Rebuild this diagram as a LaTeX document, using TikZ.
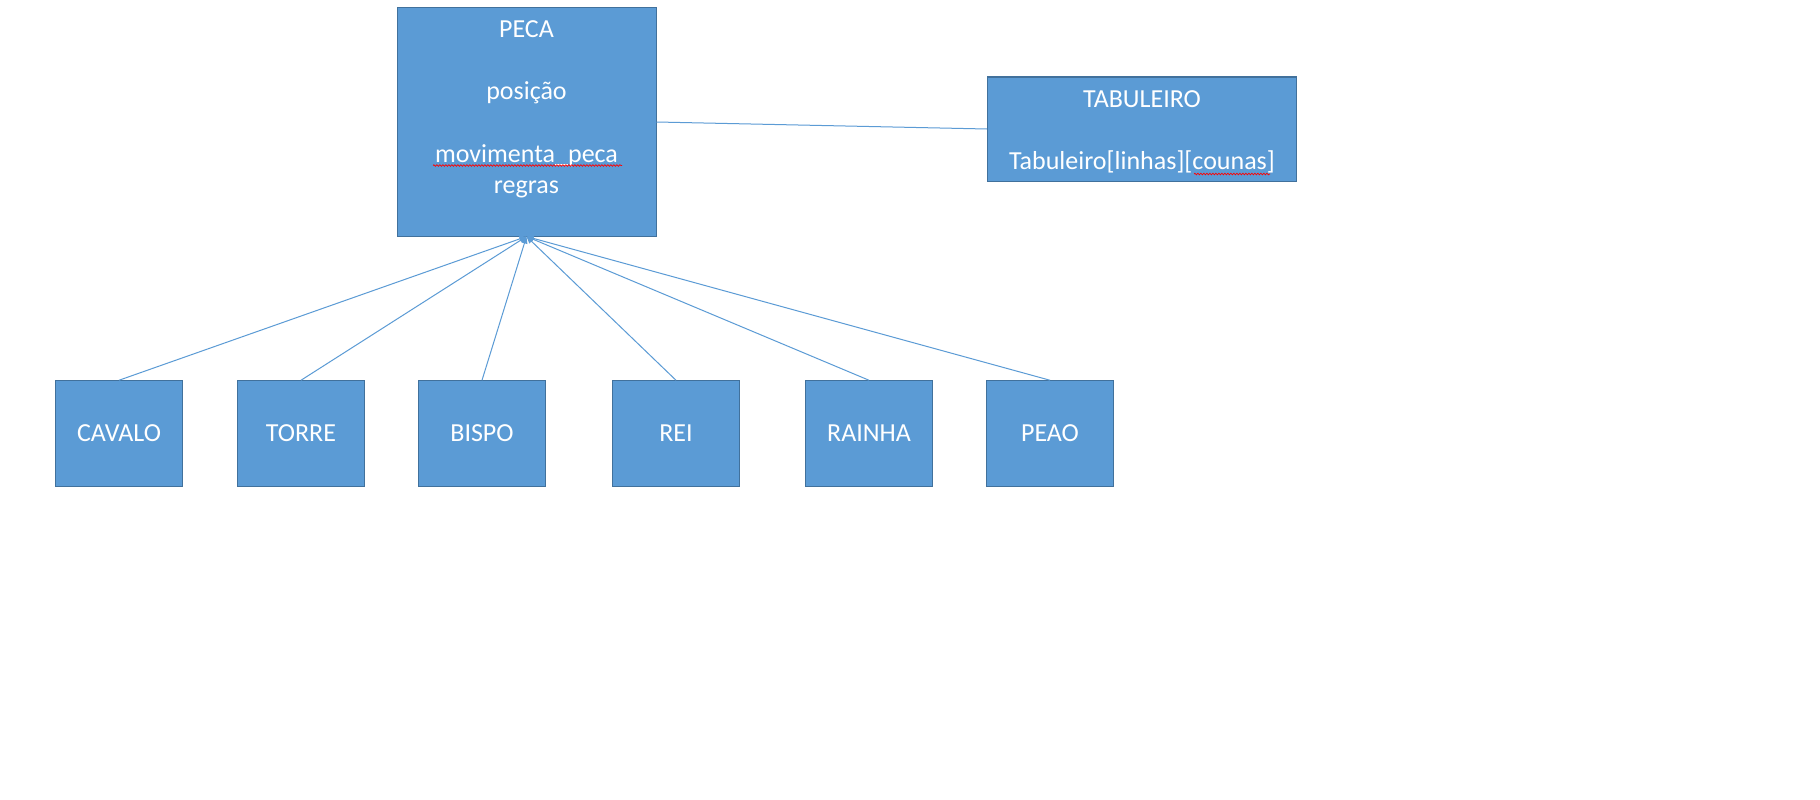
\documentclass[tikz,border=0pt]{standalone}
\usepackage{fontspec}
\setmainfont{Carlito}
\usetikzlibrary{arrows.meta,decorations.pathmorphing}
\definecolor{boxfill}{HTML}{5B9BD5}
\definecolor{boxline}{HTML}{41719C}
\begin{document}
\begin{tikzpicture}[x=1pt,y=-1pt,
 box/.style={draw=boxline,fill=boxfill,line width=1pt,inner sep=0pt,text=white,font=\fontsize{26}{31.3}\selectfont},
 piece/.style={box,minimum width=126.5pt,minimum height=105.5pt},
 txt/.style={text=white,inner sep=0pt,align=center,font=\fontsize{26}{31.3}\selectfont},
 conn/.style={draw=boxfill,line width=1pt},
 inh/.style={conn,-{Triangle[width=6pt,length=7pt]}},
 spell/.style={draw=red,line width=0.7pt,decorate,decoration={snake,segment length=3pt,amplitude=0.8pt}}]
\useasboundingbox[fill=white] (0,0) rectangle (1820,800);
\node[box,minimum width=259pt,minimum height=228pt] (peca) at (526.5,122) {};
\node[txt,anchor=north] (pecatxt) at (526.5,20) {PECA\\[31.3pt]posição\\[31.3pt]movimenta\_peca\\regras};
\node[box,minimum width=309pt,minimum height=104pt] (tab) at (1142,129) {};
\node[txt,anchor=north] (tabtxt) at (1142,90) {TABULEIRO\\[31.3pt]Tabuleiro[linhas][counas]};
\node[piece] (cavalo) at (119,433.5) {CAVALO};
\node[piece] (torre) at (301,433.5) {TORRE};
\node[piece] (bispo) at (482,433.5) {BISPO};
\node[piece] (rei) at (676,433.5) {REI};
\node[piece] (rainha) at (869,433.5) {RAINHA};
\node[piece] (peao) at (1050,433.5) {PEAO};
\draw[conn] (peca.east) -- (tab.west);
\foreach \n in {cavalo,torre,bispo,rei,rainha,peao}
  \draw[inh] (\n.north) -- (peca.south);
\draw[spell] (433,165.5) -- (622,165.5);
\draw[spell] (1194,174) -- (1270,174);
\end{tikzpicture}
\end{document}
